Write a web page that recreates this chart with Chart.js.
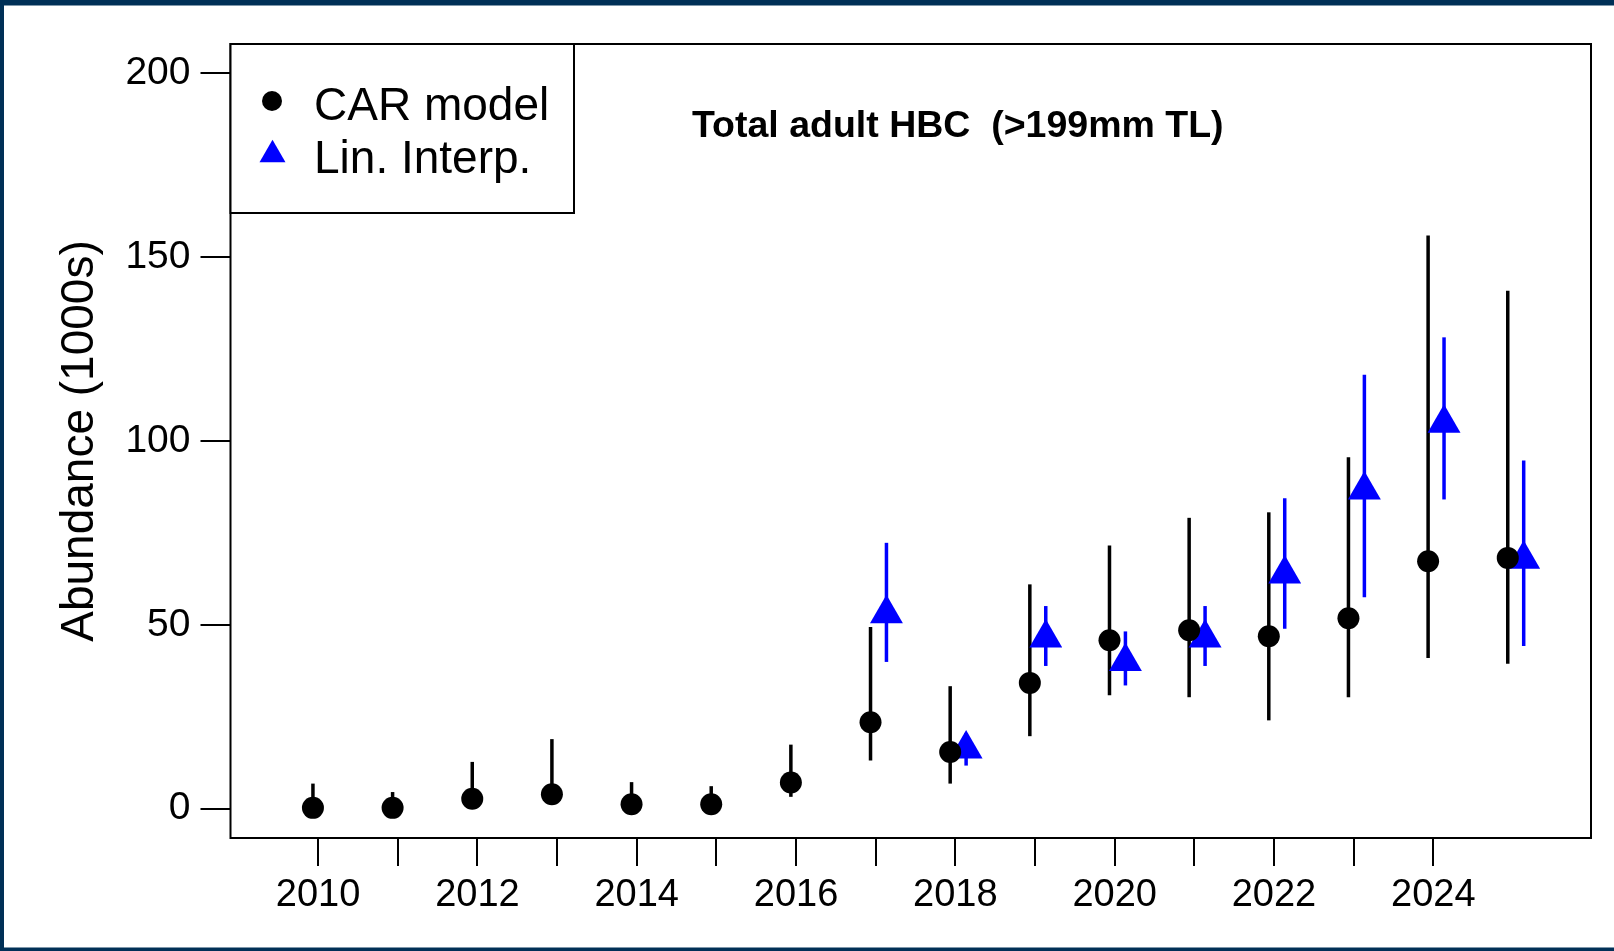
<!DOCTYPE html>
<html>
<head>
<meta charset="utf-8">
<title>Total adult HBC</title>
<script src="https://cdn.jsdelivr.net/npm/chart.js@4.4.1/dist/chart.umd.min.js"></script>
<style>
  html, body { margin: 0; padding: 0; background: #fff; }
  #wrap { position: relative; width: 1614px; height: 951px; }
</style>
</head>
<body>
<div id="wrap"><canvas id="myChart"></canvas></div>
<script>
// CAR model estimates (1000s) with interval
const years = [2010, 2011, 2012, 2013, 2014, 2015, 2016, 2017, 2018, 2019, 2020, 2021, 2022, 2023, 2024, 2025];
const carEst = [0.2, 0.2, 2.7, 3.9, 1.2, 1.2, 7.1, 23.5, 15.4, 34.2, 45.8, 48.5, 46.9, 51.8, 67.3, 68.2];
const carLow = [0, 0, 1.5, 2.5, 0.4, 0.4, 3.2, 13.1, 6.8, 19.7, 30.8, 30.3, 24.0, 30.3, 41.0, 39.4];
const carHigh = [6.8, 4.5, 12.7, 18.9, 7.2, 6.1, 17.4, 49.4, 33.3, 61.0, 71.6, 79.1, 80.6, 95.6, 155.9, 140.9];

// Linear interpolation estimates
const linYears = [2017, 2018, 2019, 2020, 2021, 2022, 2023, 2024, 2025];
const linEst = [53.0, 16.2, 46.4, 40.0, 46.4, 63.8, 86.7, 104.8, 67.8];
const linLow = [39.9, 11.7, 38.8, 33.5, 38.8, 48.9, 57.5, 84.1, 44.2];
const linHigh = [72.3, 20.5, 55.1, 48.2, 55.1, 84.4, 118.0, 128.2, 94.7];

const xTicks = [2010, 2011, 2012, 2013, 2014, 2015, 2016, 2017, 2018, 2019, 2020, 2021, 2022, 2023, 2024];
const yTicks = [0, 50, 100, 150, 200];

const seriesLabels = ['CAR model', 'Lin. Interp.'];
const titleText = 'Total adult HBC  (>199mm TL)';
const yTitle = 'Abundance (1000s)';

const FONT = "'Liberation Sans', Arial, sans-serif";
const NAVY = '#003057';
const BLUE = '#0000ff';

// points are dodged a little either side of the year
const carData = years.map((yr, i) => ({ x: yr - 0.065, y: carEst[i], lo: carLow[i], hi: carHigh[i] }));
const linData = linYears.map((yr, i) => ({ x: yr + 0.135, y: linEst[i], lo: linLow[i], hi: linHigh[i] }));

const errorBars = {
  id: 'errorBars',
  beforeDatasetsDraw(chart) {
    const ctx = chart.ctx;
    const x = chart.scales.x, y = chart.scales.y;
    chart.data.datasets.forEach(ds => {
      ctx.save();
      ctx.strokeStyle = ds.borderColor;
      ctx.lineWidth = 3.5;
      ds.data.forEach(p => {
        const px = x.getPixelForValue(p.x);
        ctx.beginPath();
        ctx.moveTo(px, y.getPixelForValue(p.lo));
        ctx.lineTo(px, y.getPixelForValue(p.hi));
        ctx.stroke();
      });
      ctx.restore();
    });
  }
};

const frame = {
  id: 'frame',
  beforeDraw(chart) {
    const ctx = chart.ctx;
    const w = chart.width, h = chart.height;
    ctx.save();
    ctx.fillStyle = '#ffffff';
    ctx.fillRect(0, 0, w, h);
    ctx.fillStyle = NAVY;
    ctx.fillRect(0, 0, w, 5.5);
    ctx.fillRect(0, 0, 4, h);
    ctx.fillRect(0, h - 3.5, w, 3.5);
    ctx.restore();
  },
  afterDraw(chart) {
    const ctx = chart.ctx;
    const a = chart.chartArea;
    const x = chart.scales.x, y = chart.scales.y;
    ctx.save();
    // plot box
    ctx.strokeStyle = '#000';
    ctx.lineWidth = 2;
    ctx.strokeRect(a.left, a.top, a.right - a.left, a.bottom - a.top);

    // legend box
    ctx.fillStyle = '#fff';
    ctx.fillRect(a.left, a.top, 574 - a.left, 213 - a.top);
    ctx.strokeRect(a.left, a.top, 574 - a.left, 213 - a.top);

    const ds = chart.data.datasets;
    ctx.fillStyle = ds[0].backgroundColor;
    ctx.beginPath();
    ctx.arc(272, 101, 10, 0, Math.PI * 2);
    ctx.fill();

    const r = 15, cx = 272.5, cy = 154.8;
    ctx.fillStyle = ds[1].backgroundColor;
    ctx.beginPath();
    ctx.moveTo(cx, cy - r);
    ctx.lineTo(cx + r * Math.sqrt(3) / 2, cy + r / 2);
    ctx.lineTo(cx - r * Math.sqrt(3) / 2, cy + r / 2);
    ctx.closePath();
    ctx.fill();

    ctx.fillStyle = '#000';
    ctx.font = '46px ' + FONT;
    ctx.textAlign = 'left';
    ctx.textBaseline = 'alphabetic';
    ctx.fillText(ds[0].label, 314, 120);
    ctx.fillText(ds[1].label, 314, 173);

    // title inside the plot
    ctx.font = 'bold 37.5px ' + FONT;
    ctx.textAlign = 'center';
    ctx.textBaseline = 'middle';
    ctx.fillText(titleText, x.getPixelForValue(2018.03), y.getPixelForValue(185.5));
    ctx.restore();
  }
};

const config = {
  type: 'scatter',
  data: {
    datasets: [{
      label: seriesLabels[0],
      data: carData,
      backgroundColor: '#000000',
      borderColor: '#000000',
      pointStyle: 'circle',
      pointRadius: 11,
      pointHoverRadius: 11,
      pointBorderWidth: 0
    }, {
      label: seriesLabels[1],
      data: linData,
      backgroundColor: BLUE,
      borderColor: BLUE,
      pointStyle: 'triangle',
      pointRadius: 19,
      pointHoverRadius: 19,
      pointBorderWidth: 0
    }]
  },
  options: {
    responsive: true,
    maintainAspectRatio: false,
    animation: false,
    events: [],
    layout: { padding: { top: 44, right: 23, left: 0, bottom: 0 } },
    plugins: {
      legend: { display: false },
      tooltip: { enabled: false }
    },
    scales: {
      x: {
        type: 'linear',
        min: 2008.9,
        max: 2025.98,
        afterBuildTicks: s => { s.ticks = xTicks.map(v => ({ value: v })); },
        afterFit: s => { s.height = 113; },
        border: { display: false },
        grid: { drawOnChartArea: false, drawTicks: true, tickLength: 28, color: '#000', lineWidth: 2 },
        ticks: {
          autoSkip: false,
          maxRotation: 0,
          padding: 7,
          color: '#000',
          font: { family: FONT, size: 38 },
          callback: v => (v % 2 === 0 ? String(v) : '')
        }
      },
      y: {
        min: -8,
        max: 208,
        afterBuildTicks: s => { s.ticks = yTicks.map(v => ({ value: v })); },
        afterFit: s => { s.width = 230.5; },
        border: { display: false },
        grid: { drawOnChartArea: false, drawTicks: true, tickLength: 30, color: '#000', lineWidth: 2 },
        ticks: {
          padding: 10,
          color: '#000',
          font: { family: FONT, size: 39 },
          callback: v => String(v)
        },
        title: {
          display: true,
          text: yTitle,
          color: '#000',
          font: { family: FONT, size: 46 },
          padding: { top: 53, bottom: 0 }
        }
      }
    }
  },
  plugins: [frame, errorBars]
};

const myChart = new Chart(document.getElementById('myChart'), config);
</script>
</body>
</html>
